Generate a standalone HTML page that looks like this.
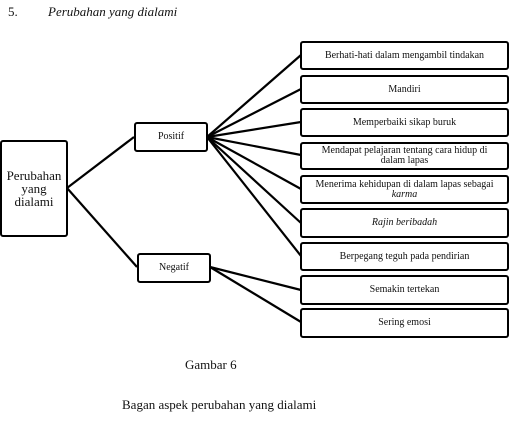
<!DOCTYPE html>
<html><head><style>
body{margin:0;width:523px;height:429px;background:#fff;overflow:hidden;font-family:"Liberation Serif",serif;color:#111}
.b{position:absolute;border:2px solid #000;border-radius:3px;box-sizing:border-box;display:flex;align-items:center;justify-content:center;text-align:center;font-size:10px;line-height:10px;background:#fff}
.t{position:absolute;white-space:nowrap}
</style></head><body>
<div class="t" style="left:8px;top:4px;font-size:13px">5.</div>
<div class="t" style="left:48px;top:4px;font-size:13px;font-style:italic">Perubahan yang dialami</div>
<svg width="523" height="429" style="position:absolute;left:0;top:0" stroke="#000" stroke-width="2.2" fill="none">
<line x1="67" y1="188" x2="134" y2="137"/><line x1="67" y1="188" x2="137" y2="267"/>
<line x1="207" y1="137" x2="301" y2="55"/><line x1="207" y1="137" x2="301" y2="89"/>
<line x1="207" y1="137" x2="301" y2="122"/><line x1="207" y1="137" x2="301" y2="155"/>
<line x1="207" y1="137" x2="301" y2="189"/><line x1="207" y1="137" x2="301" y2="223"/>
<line x1="207" y1="137" x2="301" y2="256"/>
<line x1="210" y1="267" x2="301" y2="290"/><line x1="210" y1="267" x2="301" y2="322"/>
</svg>
<div class="b" style="left:0;top:140px;width:68px;height:97px;font-size:13px;line-height:13px"><span>Perubahan<br>yang<br>dialami</span></div>
<div class="b" style="left:134px;top:122px;width:74px;height:30px"><span>Positif</span></div>
<div class="b" style="left:137px;top:253px;width:74px;height:30px"><span>Negatif</span></div>
<div class="b" style="left:300px;top:41px;width:209px;height:29px"><span>Berhati-hati dalam mengambil tindakan</span></div>
<div class="b" style="left:300px;top:75px;width:209px;height:29px"><span>Mandiri</span></div>
<div class="b" style="left:300px;top:108px;width:209px;height:29px"><span>Memperbaiki sikap buruk</span></div>
<div class="b" style="left:300px;top:142px;width:209px;height:28px"><span>Mendapat pelajaran tentang cara hidup di<br>dalam lapas</span></div>
<div class="b" style="left:300px;top:175px;width:209px;height:29px"><span>Menerima kehidupan di dalam lapas sebagai<br><i>karma</i></span></div>
<div class="b" style="left:300px;top:208px;width:209px;height:30px"><span><i>Rajin beribadah</i></span></div>
<div class="b" style="left:300px;top:242px;width:209px;height:29px"><span>Berpegang teguh pada pendirian</span></div>
<div class="b" style="left:300px;top:275px;width:209px;height:30px"><span>Semakin tertekan</span></div>
<div class="b" style="left:300px;top:308px;width:209px;height:30px"><span>Sering emosi</span></div>
<div class="t" style="left:185px;top:357px;font-size:13px">Gambar 6</div>
<div class="t" style="left:122px;top:397px;font-size:13px">Bagan aspek perubahan yang dialami</div>
</body></html>
